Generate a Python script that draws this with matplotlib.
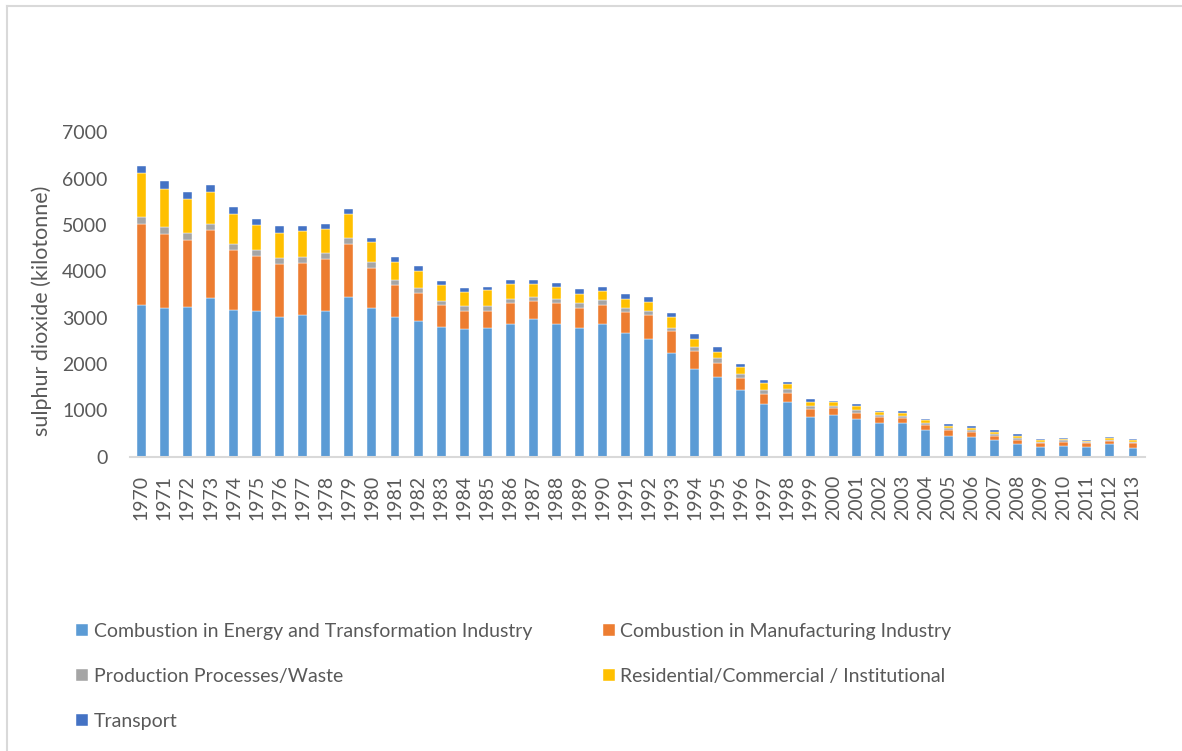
import numpy as np
import matplotlib.pyplot as plt
from matplotlib.lines import Line2D

plt.rcParams['font.family'] = ['Lato', 'DejaVu Sans']

# -------------------------------------------------------------------
# Data: UK sulphur dioxide emissions by source (kilotonne)
# -------------------------------------------------------------------
years = list(range(1970, 2014))

energy = [3276, 3211, 3225, 3419, 3160, 3146, 3009, 3060, 3138, 3449,
          3211, 3020, 2933, 2790, 2747, 2769, 2855, 2963, 2855, 2769,
          2855, 2661, 2544, 2229, 1883, 1711, 1430, 1134, 1171, 860,
          890, 803, 726, 726, 575, 445, 423, 359, 281, 207,
          229, 207, 272, 186]
manufacturing = [1750, 1599, 1462, 1477, 1311, 1188, 1152, 1123, 1138, 1144,
                 864, 684, 605, 476, 402, 380, 454, 389, 454, 432,
                 424, 467, 519, 488, 389, 315, 259, 216, 194, 159,
                 158, 143, 123, 116, 108, 123, 108, 95, 78, 87,
                 95, 80, 65, 116]
process = [143, 151, 151, 136, 129, 129, 130, 122, 123, 130,
           129, 108, 95, 99, 102, 108, 99, 99, 99, 108,
           95, 86, 86, 65, 87, 95, 86, 86, 93, 65,
           36, 52, 43, 35, 43, 43, 37, 43, 36, 30,
           28, 22, 30, 22]
residential = [958, 820, 713, 677, 627, 548, 540, 555, 511, 511,
               425, 389, 373, 346, 308, 333, 324, 268, 246, 207,
               200, 194, 194, 224, 185, 142, 152, 145, 101, 100,
               87, 86, 71, 65, 58, 50, 50, 43, 50, 35,
               28, 28, 35, 28]
transport = [158, 165, 158, 159, 158, 129, 137, 122, 122, 115,
             94, 101, 102, 86, 80, 71, 80, 87, 87, 95,
             94, 102, 95, 93, 102, 96, 71, 65, 50, 51,
             34, 43, 30, 36, 37, 37, 36, 28, 37, 30,
             30, 30, 30, 22]

series = [
    ("Combustion in Energy and Transformation Industry", energy, "#5B9BD5"),
    ("Combustion in Manufacturing Industry", manufacturing, "#ED7D31"),
    ("Production Processes/Waste", process, "#A5A5A5"),
    ("Residential/Commercial / Institutional", residential, "#FFC000"),
    ("Transport", transport, "#4472C4"),
]

text_color = "#595959"

# -------------------------------------------------------------------
# Plotting
# -------------------------------------------------------------------
fig = plt.figure(figsize=(11.82, 7.51), dpi=100)
ax = fig.add_axes([0.1098, 0.3921, 0.8585, 0.4316])

x = np.arange(len(years))
bottom = np.zeros(len(years))
handles = {}
for name, vals, color in series:
    bars = ax.bar(x, vals, width=0.39, bottom=bottom, color=color,
                  edgecolor="white", linewidth=0.3, label=name)
    handles[name] = bars
    bottom += np.array(vals)

ax.set_xlim(-0.5, len(years) - 0.5)
ax.set_ylim(0, 7000)
ax.set_yticks(range(0, 7001, 1000))
ax.set_xticks(x)
ax.set_xticklabels([str(y) for y in years], rotation=90)
ax.tick_params(axis="y", length=0, pad=16, labelsize=14, labelcolor=text_color)
ax.tick_params(axis="x", length=0, pad=13, labelsize=14, labelcolor=text_color)

for side in ["left", "right", "top"]:
    ax.spines[side].set_visible(False)
ax.spines["bottom"].set_color("#D9D9D9")
ax.spines["bottom"].set_linewidth(1.5)

# y label: measured and placed so it spans roughly y=168..453 px (from top)
ylab = fig.text(0.5, 0.5, "sulphur dioxide (kilotonne)", rotation=90,
                ha="center", va="center", fontsize=15.5, color=text_color)
fig.canvas.draw()
bb = ylab.get_window_extent()
W, H = fig.bbox.width, fig.bbox.height
target_cx, target_cy = 42, 751 - 310.5        # pixel centre (from bottom)
ylab.set_position((0.5 + (target_cx - (bb.x0 + bb.x1) / 2) / W,
                   0.5 + (target_cy - (bb.y0 + bb.y1) / 2) / H))

# Legend: row-wise order as in the original (two columns)
order = [0, 2, 4, 1, 3]
names = [series[i][0] for i in order]
fig.legend([handles[n] for n in names], names,
           loc="upper left", bbox_to_anchor=(0.058, 0.181),
           ncol=2, frameon=False, fontsize=14, labelcolor=text_color,
           handlelength=0.62, handleheight=0.62, handletextpad=0.3,
           columnspacing=3.6, labelspacing=1.44, borderaxespad=0)

# Chart area border (left and top edges)
fig.add_artist(Line2D([7 / 1182, 7 / 1182], [0, 1 - 6 / 751],
                      transform=fig.transFigure, color="#D9D9D9", lw=1.5))
fig.add_artist(Line2D([7 / 1182, 1], [1 - 6 / 751, 1 - 6 / 751],
                      transform=fig.transFigure, color="#D9D9D9", lw=1.5))

plt.savefig("out.png", dpi=100)
plt.close()
